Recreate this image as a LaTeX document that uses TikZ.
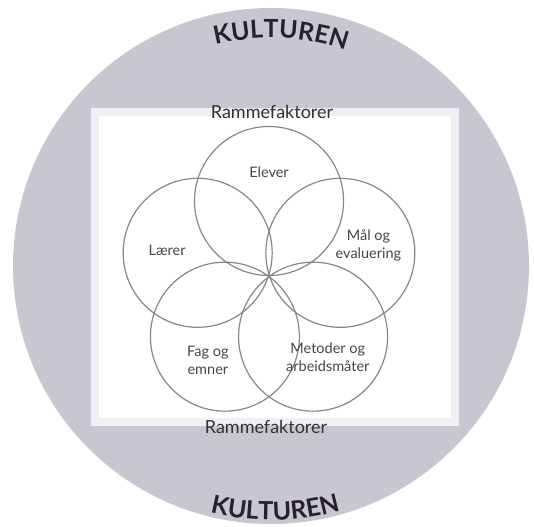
\documentclass[tikz,border=0pt]{standalone}
\usepackage{fontspec}
\setmainfont{Lato}
\usetikzlibrary{decorations.text, calc}
\definecolor{kulturgray}{RGB}{200,198,208}
\definecolor{rammeband}{RGB}{240,239,243}
\definecolor{ringgray}{RGB}{135,135,135}
\definecolor{labeldark}{RGB}{70,70,70}
\definecolor{kulturink}{RGB}{40,32,45}

\begin{document}
\begin{tikzpicture}[x=1pt, y=1pt,
    ring/.style={circle, draw=ringgray, line width=1.2pt, minimum size=149pt, inner sep=0pt},
    area/.style={font=\fontsize{14.5}{18}\selectfont, text=labeldark, align=center},
    ramme/.style={font=\fontsize{18}{21}\selectfont, text=labeldark!70!black},
    kultur/.style={decorate, decoration={text along path, text align=center,
        text={|\fontsize{25}{25}\selectfont\bfseries\color{kulturink}|KULTUREN}}}
]
\useasboundingbox (0,0) rectangle (534,526);

% Culture disc
\fill[kulturgray] (271,260) circle (258);

% Frame with its factors
\node[draw=rammeband, line width=8pt, fill=white, minimum width=360pt, minimum height=310pt] (frame) at (275,259) {};
\node[ramme] (rtop) at (272,414) {Rammefaktorer};
\node[ramme] (rbot) at (266,99) {Rammefaktorer};

% Five overlapping areas round the middle
\coordinate (mid) at (269,250);
\foreach \ang/\tang/\tdist/\name/\txt in {90/90/104/elev/Elever, 162/166/105/laer/Lærer, 18/17/104/maal/{Mål og\\evaluering}, 234/234/104/fag/{Fag og\\emner}, 306/306/100/met/{Metoder og\\arbeidsmåter}} {
  \node[ring] (\name) at ($(mid)+(\ang:75)$) {};
  \node[area] (\name-txt) at ($(mid)+(\tang:\tdist)$) {\txt};
}

% Culture round the edge
\path[kultur] (271,260) ++(120:228) arc[start angle=120, end angle=55, radius=228];
\path[kultur] (271,260) ++(239:254) arc[start angle=239, end angle=303, radius=254];

\end{tikzpicture}
\end{document}
